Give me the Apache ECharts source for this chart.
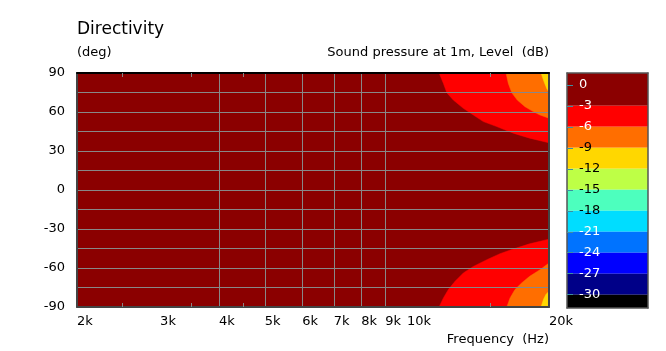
<!DOCTYPE html>
<html><head><meta charset="utf-8">
<script src="https://cdn.jsdelivr.net/npm/echarts@6/dist/echarts.min.js"></script>
<style>html,body{margin:0;padding:0;background:#fff}#c{width:666px;height:351px}</style>
</head><body><div id="c"></div>
<script>
// ---- axis / tick data ----
const freqLabels = [2000, 3000, 4000, 5000, 6000, 7000, 8000, 9000, 10000, 20000];
const freqGrid = [3000, 4000, 5000, 6000, 7000, 8000, 9000, 10000];
const freqMinorTicks = [2500, 3500, 4500, 15000];
const freqMin = 2000, freqMax = 20000;
const angleMin = -90, angleMax = 90, angleStep = 15, angleLabelStep = 30;

// ---- contour boundaries (frequency Hz, angle deg) ----
const upper3F = [11700, 11950, 12150, 12540, 13170, 13830, 14520, 15500, 16800, 18200, 20000];
const upper3A = [90, 82.0, 74.8, 69.2, 62.8, 57.7, 52.6, 48.8, 43.7, 39.9, 36.3];
const upper6F = [16220, 16400, 16680, 17130, 17790, 18520, 19140, 20000];
const upper6A = [90, 82.0, 74.8, 69.2, 64.1, 60.3, 57.7, 55.2];
const upper9F = [19240, 19520, 19780, 20000];
const upper9A = [90, 83.3, 78.1, 75.1];
const lower3F = [11700, 11950, 12240, 12650, 13170, 13830, 14770, 15750, 16800, 18200, 20000];
const lower3A = [-90, -83.0, -76.6, -70.2, -63.8, -58.8, -53.6, -49.0, -45.4, -41.4, -37.8];
const lower6F = [16280, 16540, 16940, 17500, 18200, 19140, 20000];
const lower6A = [-90, -83.0, -76.6, -71.5, -66.4, -61.3, -56.2];
const lower9F = [19240, 19460, 19700, 20000];
const lower9A = [-90, -84.3, -80.4, -77.9];

// ---- colour scale ----
const cbLevels = [0, -3, -6, -9, -12, -15, -18, -21, -24, -27, -30];
const cbColors = ['#8B0000', '#FF0000', '#FF6E00', '#FFD700', '#BEFF46', '#4DFFBE', '#00DDFF', '#0073FF', '#0000FF', '#000088', '#000000'];
const cbLabelColors = ['#fff', '#fff', '#fff', '#000', '#000', '#000', '#000', '#fff', '#fff', '#fff', '#fff'];
const cbMax = 1.7, cbMin = -31.9;

const FONT = 'DejaVu Sans';
const TXT = '#000';

const bands = cbColors.map((c, i) => [0, i === 0 ? cbMax : cbLevels[i], i === cbColors.length - 1 ? cbMin : cbLevels[i + 1], i]);

function area(F, A, colorIdx, origin) {
  const color = cbColors[colorIdx];
  return {
    type: 'line', xAxisIndex: 0, yAxisIndex: 0,
    data: F.map((f, i) => [f, A[i]]),
    symbol: 'none', showSymbol: false, silent: true, z: 2,
    lineStyle: { width: 0.5, color: color },
    areaStyle: { color: color, opacity: 1, origin: origin }
  };
}

const chart = echarts.init(document.getElementById('c'));
chart.setOption({
  animation: false,
  backgroundColor: '#fff',
  title: [
    { text: 'Directivity', left: 77, top: 21, padding: 0, textStyle: { fontFamily: FONT, fontSize: 17, fontWeight: 'normal', color: TXT } },
    { text: '(deg)', left: 77, top: 46, padding: 0, textStyle: { fontFamily: FONT, fontSize: 13, fontWeight: 'normal', color: TXT } },
    { text: 'Sound pressure at 1m, Level  (dB)', right: 117, top: 46, padding: 0, textStyle: { fontFamily: FONT, fontSize: 13, fontWeight: 'normal', color: TXT } },
    { text: 'Frequency  (Hz)', right: 117, top: 333, padding: 0, textStyle: { fontFamily: FONT, fontSize: 13, fontWeight: 'normal', color: TXT } }
  ],
  grid: [
    { left: 77, top: 73, width: 472, height: 234, show: true, backgroundColor: '#8B0000', borderWidth: 0 },
    { left: 567, top: 73, width: 81, height: 235, show: false }
  ],
  xAxis: [
    { gridIndex: 0, type: 'log', logBase: 10, min: freqMin, max: freqMax, position: 'bottom', z: 11,
      axisLine: { show: true, onZero: false, lineStyle: { color: '#444', width: 2 } },
      axisTick: { show: true, inside: true, length: 4, customValues: freqMinorTicks, lineStyle: { color: '#888' } },
      axisLabel: { show: true, customValues: freqLabels, align: 'left', margin: 8, fontFamily: FONT, fontSize: 13, color: TXT,
        formatter: v => Math.round(v / 1000) + 'k' },
      splitLine: { show: false }, minorTick: { show: false }, minorSplitLine: { show: false } },
    { gridIndex: 0, type: 'log', logBase: 10, min: freqMin, max: freqMax, position: 'top', z: 11,
      axisLine: { show: true, onZero: false, lineStyle: { color: '#000', width: 2 } },
      axisTick: { show: true, inside: true, length: 4, customValues: freqMinorTicks, lineStyle: { color: '#888' } },
      axisLabel: { show: false }, splitLine: { show: false } },
    { gridIndex: 0, type: 'log', logBase: 10, min: freqMin, max: freqMax, position: 'bottom', z: 10,
      axisLine: { show: false },
      axisTick: { show: false, customValues: freqGrid },
      axisLabel: { show: false },
      splitLine: { show: true, showMinLine: false, showMaxLine: false, lineStyle: { color: '#888', width: 1 } } },
    { gridIndex: 1, type: 'value', min: 0, max: 1, position: 'bottom', z: 10,
      axisLine: { show: true, onZero: false, lineStyle: { color: '#555', width: 1.5 } },
      axisTick: { show: false }, axisLabel: { show: false }, splitLine: { show: false } },
    { gridIndex: 1, type: 'value', min: 0, max: 1, position: 'top', z: 10,
      axisLine: { show: true, onZero: false, lineStyle: { color: '#555', width: 1.5 } },
      axisTick: { show: false }, axisLabel: { show: false }, splitLine: { show: false } }
  ],
  yAxis: [
    { gridIndex: 0, type: 'value', min: angleMin, max: angleMax, interval: angleStep, position: 'left', z: 10,
      axisLine: { show: true, onZero: false, lineStyle: { color: '#444', width: 2 } },
      axisTick: { show: false },
      axisLabel: { margin: 12, fontFamily: FONT, fontSize: 13, color: TXT,
        formatter: v => (v % angleLabelStep === 0 ? String(v) : '') },
      splitLine: { show: true, showMinLine: false, showMaxLine: false, lineStyle: { color: '#888', width: 1 } } },
    { gridIndex: 0, type: 'value', min: angleMin, max: angleMax, interval: angleStep, position: 'right', z: 10,
      axisLine: { show: true, onZero: false, lineStyle: { color: '#444', width: 2 } },
      axisTick: { show: false }, axisLabel: { show: false }, splitLine: { show: false } },
    { gridIndex: 1, type: 'value', min: cbMin, max: cbMax, position: 'left', z: 10,
      axisLine: { show: true, onZero: false, lineStyle: { color: '#555', width: 1.5 } },
      axisTick: { show: true, inside: true, length: 6, customValues: cbLevels, lineStyle: { color: '#3d8fa0' } },
      axisLabel: { show: true, inside: true, margin: 12, customValues: cbLevels, fontFamily: FONT, fontSize: 13,
        formatter: v => String(v),
        color: (v) => cbLabelColors[cbLevels.indexOf(Math.round(Number(v)))] || '#fff' },
      splitLine: { show: false } },
    { gridIndex: 1, type: 'value', min: cbMin, max: cbMax, position: 'right', z: 10,
      axisLine: { show: true, onZero: false, lineStyle: { color: '#555', width: 1.5 } },
      axisTick: { show: false }, axisLabel: { show: false }, splitLine: { show: false } }
  ],
  series: [
    area(upper3F, upper3A, 1, 'end'),
    area(lower3F, lower3A, 1, 'start'),
    area(upper6F, upper6A, 2, 'end'),
    area(lower6F, lower6A, 2, 'start'),
    area(upper9F, upper9A, 3, 'end'),
    area(lower9F, lower9A, 3, 'start'),
    {
      type: 'custom', xAxisIndex: 3, yAxisIndex: 2, silent: true, z: 2,
      data: bands,
      encode: { x: 0, y: [1, 2] },
      renderItem: function (params, api) {
        const p1 = api.coord([0, api.value(1)]);
        const p2 = api.coord([1, api.value(2)]);
        return { type: 'rect', shape: { x: p1[0], y: p1[1], width: p2[0] - p1[0], height: p2[1] - p1[1] },
          style: { fill: cbColors[api.value(3)] } };
      }
    }
  ]
});
</script>
</body></html>
